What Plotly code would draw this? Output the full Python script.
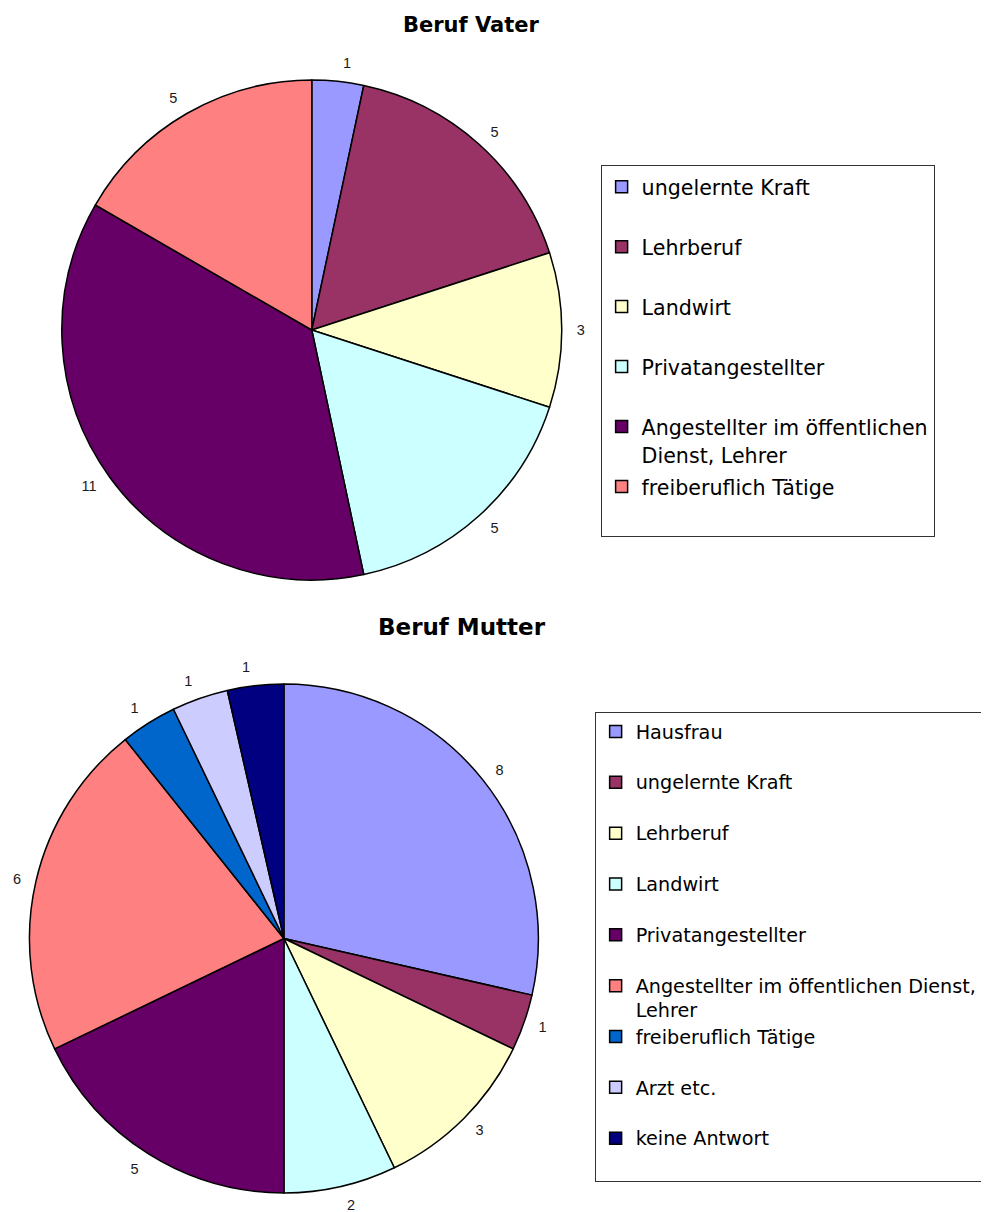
import plotly.graph_objects as go

# The page body has an 8px default margin, so everything drawn in the figure
# appears 8px right of and below its figure position; reference pixel
# positions are shifted back by that margin.
OFF = 8
W, H = 989, 1212

# ---- data ----
vater_labels = ["ungelernte Kraft", "Lehrberuf", "Landwirt", "Privatangestellter",
                "Angestellter im öffentlichen<br>Dienst, Lehrer", "freiberuflich Tätige"]
vater_values = [1, 5, 3, 5, 11, 5]
vater_colors = ["#9999FF", "#993366", "#FFFFCC", "#CCFFFF", "#660066", "#FF8080"]

mutter_labels = ["Hausfrau", "ungelernte Kraft", "Lehrberuf", "Landwirt", "Privatangestellter",
                 "Angestellter im öffentlichen Dienst,<br>Lehrer", "freiberuflich Tätige",
                 "Arzt etc.", "keine Antwort"]
mutter_values = [8, 1, 3, 2, 5, 6, 1, 1, 1]
mutter_colors = ["#9999FF", "#993366", "#FFFFCC", "#CCFFFF", "#660066", "#FF8080",
                 "#0066CC", "#CCCCFF", "#000080"]

titles = ["Beruf Vater", "Beruf Mutter"]


def legend_label(lab, px):
    # every legend entry occupies two text lines so that entries are evenly spaced
    txt = lab if "<br>" in lab else lab + "<br>\u00a0"
    return f"<span style='font-size:{px}px'>{txt}</span>"


def clamp(v):
    return min(1.0, max(0.0, v))


def px_x(a, b):
    return [clamp((a - OFF) / W), clamp((b - OFF) / W)]


def px_y(top, bottom):
    return [clamp(1 - (bottom - OFF) / H), clamp(1 - (top - OFF) / H)]


def circle_domain(cx, cy, r):
    return dict(x=px_x(cx - r, cx + r), y=px_y(cy - r, cy + r))


label_font = dict(family="Liberation Sans, Arial, sans-serif", size=14.5, color="#1a1a1a")

pies = [
    dict(labels=vater_labels, values=vater_values, colors=vater_colors,
         cx=309, cy=330, r=251, gap=11, legend="legend", lpx=20.6),
    dict(labels=mutter_labels, values=mutter_values, colors=mutter_colors,
         cx=281, cy=938.5, r=255.5, gap=11, legend="legend2", lpx=19.2),
]

fig = go.Figure()

for p in pies:
    n = len(p["values"])
    # two transparent, slightly larger pies that only carry the value labels
    # (alternate slices each, so neighbouring labels are never pushed aside)
    for parity in (0, 1):
        fig.add_trace(go.Pie(
            labels=[l.replace("<br>", " ") for l in p["labels"]],
            values=p["values"],
            sort=False, direction="clockwise", rotation=0,
            marker=dict(colors=["rgba(0,0,0,0)"] * n, line=dict(width=0)),
            textposition=["outside" if i % 2 == parity else "none" for i in range(n)],
            texttemplate="%{value}", textfont=label_font,
            domain=circle_domain(p["cx"], p["cy"], p["r"] + p["gap"]),
            showlegend=False, hoverinfo="skip", legend=p["legend"],
        ))
    # the visible pie
    fig.add_trace(go.Pie(
        labels=[legend_label(l, p["lpx"]) for l in p["labels"]],
        values=p["values"],
        sort=False, direction="clockwise", rotation=0,
        marker=dict(colors=p["colors"], line=dict(color="black", width=1.5)),
        textinfo="none",
        domain=circle_domain(p["cx"], p["cy"], p["r"]),
        legend=p["legend"], hoverinfo="label+value+percent",
    ))

legend_common = dict(
    bgcolor="white", bordercolor="#333", borderwidth=1,
    xanchor="left", yanchor="top", valign="top",
    orientation="v", itemclick=False, itemdoubleclick=False,
)

fig.update_layout(
    width=W, height=H,
    margin=dict(l=0, r=0, t=0, b=0),
    paper_bgcolor="white", plot_bgcolor="white",
    font=dict(family="DejaVu Sans, Verdana, sans-serif", color="black"),
    showlegend=True,
    legend=dict(x=(599 - OFF) / W, y=1 - (165 - OFF) / H,
                font=dict(family="DejaVu Sans, Verdana, sans-serif", size=21.9, color="black"),
                **legend_common),
    legend2=dict(x=(593 - OFF) / W, y=1 - (712 - OFF) / H,
                 font=dict(family="DejaVu Sans, Verdana, sans-serif", size=18.4, color="black"),
                 **legend_common),
    annotations=[
        dict(text=f"<b>{titles[0]}</b>", x=(469 - OFF) / W, y=1 - (25 - OFF) / H,
             xref="paper", yref="paper", showarrow=False, xanchor="center", yanchor="middle",
             font=dict(family="DejaVu Sans, Verdana, sans-serif", size=21, color="black")),
        dict(text=f"<b>{titles[1]}</b>", x=(460 - OFF) / W, y=1 - (627 - OFF) / H,
             xref="paper", yref="paper", showarrow=False, xanchor="center", yanchor="middle",
             font=dict(family="DejaVu Sans, Verdana, sans-serif", size=23, color="black")),
    ],
)

fig.write_html("out.html")
